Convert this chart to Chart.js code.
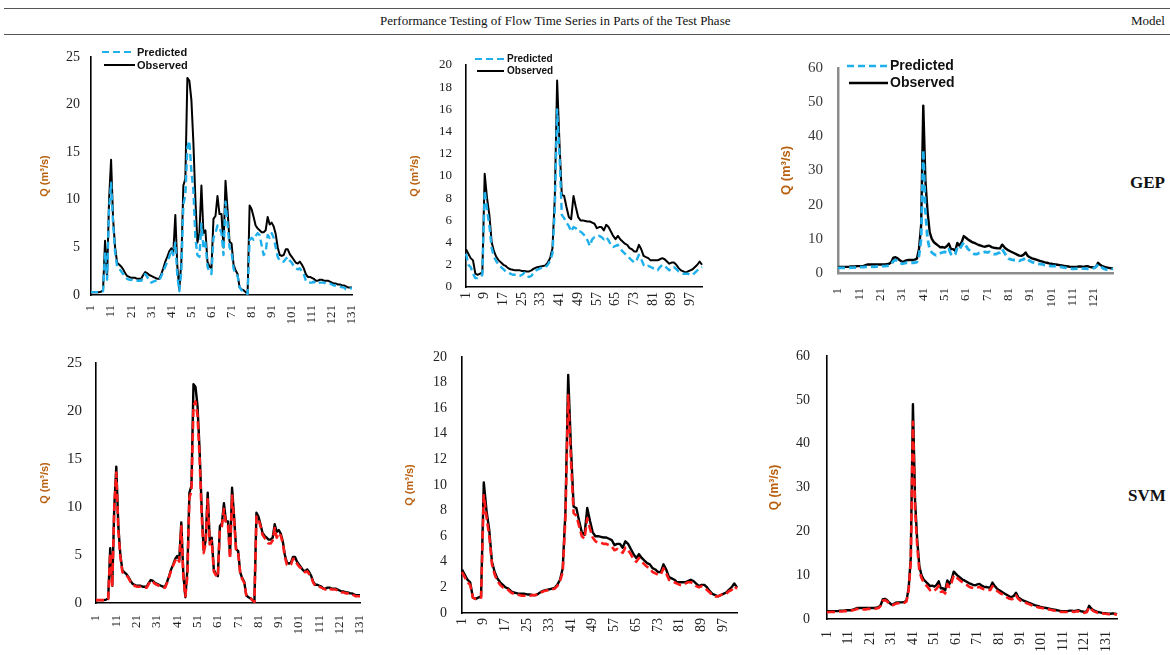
<!DOCTYPE html>
<html>
<head>
<meta charset="utf-8">
<script src="https://cdn.jsdelivr.net/npm/chart.js@4.4.1/dist/chart.umd.min.js"></script>
<style>
  html, body { margin: 0; padding: 0; background: #fff; }
  body { width: 1170px; height: 655px; position: relative; overflow: hidden;
         font-family: "Liberation Serif", "Times New Roman", serif; color: #111; }
  .rule { position: absolute; left: 4px; right: 0; height: 0; border-top: 1.5px solid #555; }
  .hd { position: absolute; font-size: 13px; line-height: 16px; white-space: nowrap; }
  .model { position: absolute; font-weight: bold; font-size: 17px; line-height: 20px; }
  canvas { position: absolute; }
</style>
</head>
<body>
<div class="rule" style="top:8px"></div>
<div class="rule" style="top:34px"></div>
<div class="hd" style="left:380px;top:13px">Performance Testing of Flow Time Series in Parts of the Test Phase</div>
<div class="hd" style="left:1131px;top:13px">Model</div>
<div class="model" style="left:1130px;top:173px">GEP</div>
<div class="model" style="left:1128px;top:486px">SVM</div>

<canvas id="c1"></canvas>
<canvas id="c2"></canvas>
<canvas id="c3"></canvas>
<canvas id="c4"></canvas>
<canvas id="c5"></canvas>
<canvas id="c6"></canvas>

<script>
/* Flow time series, test phase: observed vs GEP (top row) and SVM (bottom row)
   for three stations. (m3/s). */

// ---- station 1 (131 steps)
const obs1 = [
  0.3,0.3,0.3,0.3,0.3,0.35,0.5,5.7,1.8,10,
  14.2,8,5,3.4,3.2,3.0,2.7,2.3,2.0,1.9,
  1.8,1.8,1.8,1.7,1.7,1.7,2.1,2.4,2.3,2.1,
  2.0,1.9,1.8,1.7,1.7,2.2,2.8,3.5,4.0,4.6,
  4.9,4.5,8.4,3.0,0.6,3.5,11.5,12.2,22.8,22.5,
  20.5,16,10,5.5,6.5,11.5,6.5,6.8,3.5,3.0,
  2.8,8.0,8.3,10.4,8.5,8.5,5.0,12.0,9.0,5.6,
  5.4,3.2,2.6,2.2,0.8,0.6,0.5,0.3,0.1,9.4,
  9.0,8.2,7.3,7.0,6.8,6.6,6.6,6.8,8.2,7.4,
  7.6,7.2,6.4,5.0,4.2,4.1,4.2,4.8,4.8,4.3,
  4.0,3.7,3.4,3.3,3.5,3.2,2.8,2.2,1.9,1.9,
  1.8,1.7,1.5,1.5,1.6,1.6,1.5,1.5,1.5,1.4,
  1.3,1.2,1.2,1.1,1.1,1.0,1.0,0.9,0.8,0.8,0.8];
const gep1 = [
  0.3,0.3,0.3,0.3,0.3,0.3,0.4,4.5,1.6,9,
  11.8,7.5,4.5,3.0,2.8,2.5,2.2,1.9,1.7,1.6,
  1.6,1.5,1.5,1.5,1.5,1.5,1.8,2.2,1.9,1.5,
  1.3,1.4,1.5,1.5,1.5,2.0,2.5,3.0,3.5,4.0,
  4.8,4.2,5.5,2.0,0.4,2.5,9.5,10.5,15.5,16.2,
  13,11,6,4.2,4.0,7.5,5.0,5.5,3.0,2.4,
  2.2,6.0,6.5,7.3,7.0,6.5,4.2,9.8,7.5,5.0,
  4.5,2.8,2.2,2.0,0.8,0.5,0.4,0.3,0.1,5.8,
  6.0,5.8,6.2,6.5,6.3,5.2,4.2,4.5,6.3,6.0,
  6.5,6.0,5.0,4.0,3.6,3.6,3.5,3.8,4.0,3.6,
  3.4,3.0,2.8,2.7,2.8,2.5,2.2,1.5,1.3,1.3,
  1.3,1.4,1.2,1.2,1.3,1.3,1.3,1.2,1.2,1.2,
  1.1,1.0,1.0,0.9,0.9,0.8,0.8,0.6,0.6,0.7,0.7];
const svm1 = [
  0.3,0.3,0.3,0.3,0.3,0.3,0.4,5.2,1.7,10,
  13.6,7.5,4.8,3.2,3.1,2.9,2.6,2.2,1.9,1.8,
  1.7,1.7,1.7,1.6,1.6,1.6,2.0,2.3,2.2,2.0,
  1.9,1.8,1.7,1.6,1.6,2.1,2.7,3.4,3.9,4.4,
  4.7,4.3,8.0,2.8,0.7,2.8,11.0,11.6,20.5,21.0,
  19.5,15.2,9.4,5.2,6.2,10.8,6.1,6.5,3.3,2.9,
  2.7,7.7,8.0,9.8,8.2,8.1,4.6,11.2,8.6,5.4,
  5.2,3.1,2.5,2.1,0.8,0.6,0.5,0.3,0.1,9.0,
  8.7,8.0,7.1,6.8,6.5,6.2,6.2,6.5,7.8,6.8,
  7.3,7.0,6.2,4.8,4.0,3.9,4.0,4.6,4.6,4.1,
  3.8,3.6,3.3,3.2,3.3,3.0,2.7,2.1,1.8,1.8,
  1.7,1.6,1.5,1.4,1.5,1.5,1.4,1.4,1.4,1.3,
  1.2,1.1,1.1,1.0,1.0,0.9,0.9,0.8,0.7,0.7,0.7];

// ---- station 2 (102 steps)
const obs2 = [
  3.4,3.0,2.6,2.4,1.2,1.1,1.2,1.3,10.2,8.0,
  6.5,4.0,3.2,2.7,2.4,2.2,2.0,1.9,1.7,1.6,
  1.55,1.5,1.5,1.5,1.45,1.45,1.4,1.4,1.5,1.65,
  1.75,1.8,1.85,1.9,1.95,2.2,2.6,3.5,8.0,18.6,
  13,8.3,8.2,7.2,6.3,6.1,8.2,7.2,6.3,6.0,
  6.0,5.95,5.9,5.9,5.8,5.7,5.3,5.4,5.4,5.1,
  5.6,5.4,5.0,4.6,4.3,4.6,4.3,4.1,3.9,3.8,
  3.5,3.4,3.2,3.2,3.8,3.4,2.8,2.7,2.6,2.4,
  2.4,2.4,2.4,2.5,2.6,2.5,2.3,2.1,2.2,2.2,
  2.0,1.7,1.5,1.4,1.3,1.4,1.5,1.6,1.8,2.0,
  2.3,2.0];
const gep2 = [
  3.0,2.0,1.8,1.2,0.8,0.8,0.9,1.1,8.7,7.0,
  5.5,3.5,2.7,2.3,2.0,1.8,1.6,1.4,1.3,1.2,
  1.1,1.1,1.0,1.0,1.1,1.3,1.0,0.9,1.0,1.3,
  1.5,1.6,1.7,1.8,1.8,2.0,2.4,3.0,7.0,16.0,
  12,6.5,6.2,5.8,5.5,5.0,5.4,5.3,5.0,5.0,
  4.8,4.6,4.2,3.7,4.3,4.5,4.5,4.6,4.5,4.3,
  4.5,4.2,3.8,3.6,3.7,3.8,3.5,3.2,3.0,2.8,
  2.6,2.4,2.2,2.4,2.9,2.5,2.0,1.8,1.9,1.8,
  1.7,1.6,1.5,1.8,2.0,1.9,1.7,1.5,1.7,1.8,
  1.6,1.4,1.3,1.2,1.2,1.2,1.1,1.1,1.3,1.5,
  1.7,1.8];
const svm2 = [
  3.2,2.8,2.4,2.2,1.2,1.1,1.1,1.2,9.2,7.5,
  6.0,3.8,3.0,2.5,2.2,2.0,1.9,1.8,1.6,1.5,
  1.45,1.4,1.35,1.35,1.35,1.35,1.4,1.4,1.45,1.6,
  1.7,1.75,1.8,1.85,1.9,2.1,2.5,3.2,7.5,17.0,
  12.0,7.8,7.6,6.8,6.0,5.8,7.4,6.6,5.9,5.6,
  5.5,5.5,5.4,5.4,5.3,5.2,4.9,5.0,4.9,4.7,
  5.1,4.9,4.6,4.2,4.0,4.3,4.0,3.8,3.6,3.5,
  3.2,3.1,3.0,3.0,3.5,3.1,2.6,2.5,2.4,2.3,
  2.2,2.2,2.3,2.4,2.4,2.3,2.1,2.0,2.1,2.0,
  1.8,1.6,1.4,1.3,1.3,1.4,1.5,1.5,1.7,1.8,
  2.1,1.9];

// ---- station 3 (136 steps; the GEP panel only shows the first 130)
const obs3 = [
  1.8,1.8,1.8,1.8,1.8,1.8,1.9,1.9,1.9,2.0,
  2.0,2.0,2.1,2.3,2.5,2.5,2.5,2.5,2.5,2.5,
  2.5,2.5,2.5,2.6,2.7,3.2,4.5,4.6,4.3,3.7,
  3.3,3.4,3.7,3.8,3.8,3.8,3.9,4.2,7.0,14.0,
  49.0,27.0,18.0,12.0,10.0,9.0,8.5,8.0,7.5,7.6,
  7.4,7.8,8.6,7.0,7.0,6.5,8.8,8.0,9.0,10.8,
  10.3,9.8,9.4,9.0,8.8,8.5,8.2,8.0,7.8,7.7,
  7.9,8.0,7.6,7.4,7.3,7.2,7.2,8.3,7.6,7.0,
  6.6,6.3,6.0,5.7,5.4,5.1,5.0,5.3,6.0,5.0,
  4.6,4.3,4.1,3.9,3.7,3.5,3.3,3.1,3.0,2.8,
  2.7,2.6,2.5,2.4,2.3,2.2,2.1,2.0,1.9,1.8,
  1.8,1.8,1.8,1.9,1.9,1.8,1.9,2.0,1.8,1.7,
  1.6,1.8,3.0,2.4,2.0,1.8,1.6,1.5,1.4,1.3,
  1.3,1.2,1.2,1.3,1.2,1.1];
const gep3 = [
  1.5,1.5,1.5,1.5,1.5,1.5,1.6,1.6,1.6,1.6,
  1.7,1.7,1.7,1.8,1.8,1.8,1.8,1.8,1.9,1.9,
  2.0,2.0,2.0,2.1,2.2,2.5,3.5,3.8,3.5,3.0,
  2.7,2.8,3.0,3.0,3.0,3.0,3.0,3.2,5.0,10.0,
  36.0,18.0,10.0,7.0,6.0,5.5,5.2,5.5,5.8,6.0,
  6.2,6.0,7.0,5.5,5.0,5.5,7.5,7.0,8.0,9.0,
  8.0,7.0,6.5,6.0,5.5,5.5,5.8,6.0,6.0,6.2,
  6.0,6.2,5.8,5.5,5.5,5.8,6.0,7.0,6.0,5.0,
  4.2,4.0,3.8,3.8,3.8,3.5,3.8,4.0,4.5,4.0,
  3.5,3.2,3.0,2.8,2.7,2.6,2.5,2.3,2.2,2.1,
  2.0,2.0,2.0,1.9,1.8,1.7,1.6,1.5,1.4,1.3,
  1.2,1.2,1.3,1.4,1.4,1.3,1.3,1.2,1.2,1.3,
  1.4,1.8,2.5,2.0,1.5,1.2,1.0,1.0,1.1,1.2];
const svm3 = [
  1.5,1.6,1.6,1.6,1.6,1.7,1.7,1.7,1.8,1.8,
  1.8,1.9,2.0,2.1,2.3,2.3,2.3,2.2,2.2,2.3,
  2.3,2.3,2.3,2.4,2.5,3.0,4.2,4.3,4.0,3.5,
  3.1,3.2,3.5,3.6,3.6,3.6,3.7,4.0,6.5,13.0,
  45.0,25.0,16.5,11.0,9.3,8.4,7.8,7.2,6.6,6.8,
  6.5,6.9,7.6,6.2,6.3,5.8,8.0,7.3,8.3,10.0,
  9.6,9.2,8.8,8.4,8.1,7.8,7.4,7.2,7.1,7.0,
  7.2,7.3,7.0,6.8,6.7,6.6,6.6,7.5,7.0,6.5,
  6.1,5.8,5.5,5.2,4.9,4.6,4.5,4.8,5.4,4.6,
  4.2,4.0,3.8,3.6,3.4,3.2,3.0,2.9,2.7,2.6,
  2.5,2.4,2.3,2.2,2.1,2.0,1.9,1.8,1.7,1.6,
  1.6,1.6,1.6,1.7,1.7,1.6,1.7,1.8,1.6,1.5,
  1.4,1.6,2.7,2.2,1.8,1.6,1.4,1.4,1.3,1.2,
  1.2,1.1,1.1,1.2,1.1,1.0];

// ---- looks
const SERIF = "'Liberation Serif', 'Times New Roman', serif";
const SANS = "'Liberation Sans', Arial, sans-serif";
const BLUE = "#1fb0ec", RED = "#ff1a1a", BLACK = "#000";
const TITLE_C = "#b8600f";
const Y_TITLE = "Q (m³/s)";

const idxLabels = n => Array.from({ length: n }, (_, i) => String(i + 1));

// legend drawn as two stacked line samples (Excel style), page coords
function lineLegend(items, left, top) {
  return {
    id: "lineLegend",
    afterDraw(chart) {
      const ctx = chart.ctx;
      ctx.save();
      items.forEach(it => {
        ctx.strokeStyle = it.color; ctx.lineWidth = it.width;
        ctx.setLineDash(it.dash || []);
        ctx.beginPath();
        ctx.moveTo(it.x1 - left, it.y - top); ctx.lineTo(it.x2 - left, it.y - top);
        ctx.stroke();
        ctx.setLineDash([]);
        ctx.fillStyle = "#111"; ctx.font = it.font;
        ctx.textBaseline = "middle"; ctx.textAlign = "left";
        ctx.fillText(it.label, it.tx - left, it.y - top + 0.5);
      });
      ctx.restore();
    },
  };
}

// g: plot box in page px (L,T,R,B) + margins; o: scale / style options
function panel(id, g, series, o) {
  const cv = document.getElementById(id);
  const left = g.L - g.yw, top = g.T - g.pt;
  const w = g.R - g.L + g.yw + g.pr, h = g.B - g.T + g.pt + g.xh + g.pb;
  cv.width = w; cv.height = h;
  Object.assign(cv.style, { left: left + "px", top: top + "px", width: w + "px", height: h + "px" });
  const labels = idxLabels(series[0].data.length);
  return new Chart(cv, {
    type: "line",
    data: {
      labels,
      datasets: series.map(s => ({
        label: s.label, data: s.data,
        borderColor: s.color, backgroundColor: s.color, borderWidth: s.width,
        borderDash: s.dash || [], borderCapStyle: "butt", borderJoinStyle: "round",
        pointRadius: 0, tension: 0, fill: false,
      })),
    },
    options: {
      responsive: false, animation: false, events: [],
      layout: { padding: { top: g.pt, right: g.pr, bottom: g.pb, left: 0 } },
      plugins: { legend: { display: false }, tooltip: { enabled: false } },
      scales: {
        x: {
          type: "category", offset: false,
          grid: { display: false, drawTicks: false },
          border: { display: true, color: o.axis, width: o.axisW },
          ticks: {
            autoSkip: false, minRotation: 90, maxRotation: 90, padding: g.xpad,
            color: "#222", font: { family: SERIF, size: o.xFont },
            callback: (v, i) => (i % o.step === 0 ? labels[i] : ""),
          },
          // fixed box: the plot edges come from the page layout, not from label overhang
          afterFit: s => { s.height = g.xh; s.paddingLeft = 0; s.paddingRight = 0; },
        },
        y: {
          min: 0, max: o.ymax,
          grid: { display: false, drawTicks: false },
          border: { display: true, color: o.axis, width: o.axisW },
          ticks: { stepSize: o.ystep, padding: g.ypad, color: o.tickC || "#222",
                   font: { family: SERIF, size: o.yFont } },
          title: { display: true, text: Y_TITLE, color: TITLE_C,
                   font: { family: SANS, size: o.tFont, weight: "bold" },
                   padding: { top: g.tp, bottom: 0 } },
          afterFit: s => { s.width = g.yw; s.paddingTop = 0; s.paddingBottom = 0; },
        },
      },
    },
    plugins: o.legend ? [lineLegend(o.legend, left, top)] : [],
  });
}

const predGEP = (data, w) => ({ label: "Predicted", data, color: BLUE, width: w, dash: [7, 4] });
const predSVM = data => ({ label: "Predicted", data, color: RED, width: 2.6, dash: [8, 4] });
const observed = (data, w) => ({ label: "Observed", data, color: BLACK, width: w });

const leg = (x1, x2, tx, y1, y2, font, lw) => [
  { label: "Predicted", color: BLUE, width: lw, dash: [7, 4], x1, x2, tx, y: y1, font },
  { label: "Observed", color: BLACK, width: lw, x1: x1 + 2, x2, tx, y: y2, font },
];

// ---- top row: GEP
panel("c1", { L: 91, T: 57, R: 352, B: 295, yw: 61, pt: 15, pr: 10, xh: 40, pb: 5, xpad: 10, ypad: 11, tp: 8 },
  [predGEP(gep1, 2.4), observed(obs1, 2)],
  { ymax: 25, ystep: 5, step: 10, xFont: 13, yFont: 14, tFont: 11, axis: "#000", axisW: 1.6,
    legend: leg(102, 135, 137, 52, 65, "bold 11px " + SANS, 2) });

panel("c2", { L: 466, T: 65, R: 702, B: 287, yw: 66, pt: 22, pr: 10, xh: 38, pb: 5, xpad: 5, ypad: 14, tp: 8 },
  [predGEP(gep2, 2.4), observed(obs2, 2)],
  { ymax: 20, ystep: 2, step: 8, xFont: 14, yFont: 13, tFont: 11, axis: "#000", axisW: 1.6,
    legend: leg(475, 504, 507, 59, 71, "bold 10px " + SANS, 2) });

panel("c3", { L: 838, T: 68, R: 1113, B: 273, yw: 63, pt: 15, pr: 12, xh: 45, pb: 5, xpad: 15, ypad: 15, tp: 4 },
  [predGEP(gep3, 2.8), observed(obs3.slice(0, gep3.length), 2.4)],
  { ymax: 60, ystep: 10, step: 10, xFont: 13, yFont: 15, tFont: 13, axis: "#8c8c8c", axisW: 2.5,
    tickC: "#3a3a3a", legend: leg(847, 888, 890, 66, 83, "bold 14px " + SANS, 2.4) });

// ---- bottom row: SVM
panel("c4", { L: 96, T: 363, R: 360, B: 603, yw: 66, pt: 15, pr: 10, xh: 40, pb: 4, xpad: 12, ypad: 14, tp: 8 },
  [predSVM(svm1), observed(obs1, 2.4)],
  { ymax: 25, ystep: 5, step: 10, xFont: 13, yFont: 15, tFont: 11, axis: "#000", axisW: 1.6 });

panel("c5", { L: 462, T: 357, R: 737, B: 613, yw: 64, pt: 15, pr: 10, xh: 38, pb: 2, xpad: 5, ypad: 15, tp: 5 },
  [predSVM(svm2), observed(obs2, 2.4)],
  { ymax: 20, ystep: 2, step: 8, xFont: 14, yFont: 14, tFont: 11, axis: "#000", axisW: 1.6 });

panel("c6", { L: 827, T: 356, R: 1117, B: 619, yw: 67, pt: 15, pr: 10, xh: 34, pb: 2, xpad: 12, ypad: 17, tp: 7 },
  [predSVM(svm3), observed(obs3, 2.4)],
  { ymax: 60, ystep: 10, step: 10, xFont: 14, yFont: 14, tFont: 12, axis: "#000", axisW: 1.6 });
</script>
</body>
</html>
